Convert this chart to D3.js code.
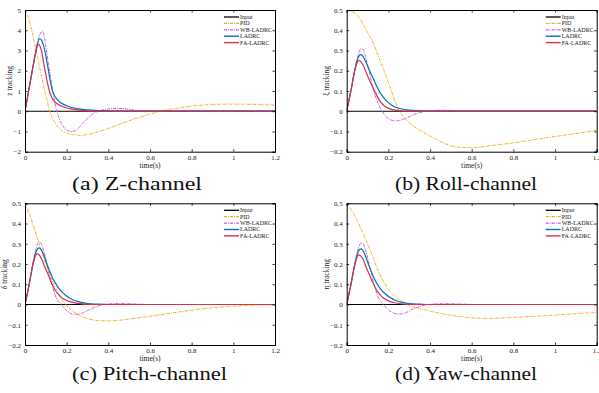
<!DOCTYPE html>
<html><head><meta charset="utf-8">
<script src="https://cdn.jsdelivr.net/npm/d3@7"></script>
<style>
html,body{margin:0;padding:0;background:#fff;}
svg text{font-family:"Liberation Serif","Times New Roman",serif;}
</style></head>
<body><svg id="c" width="599" height="393"></svg>
<script>
// ---------- data ----------
const seriesNames = ["Input","PID","WB-LADRC","LADRC","FA-LADRC"];
const xTicks = [0,0.2,0.4,0.6,0.8,1,1.2];
const yTicksZ = [-2,-1,0,1,2,3,4,5];
const yTicksA = [-0.2,-0.1,0,0.1,0.2,0.3,0.4,0.5];
const inputLine = [[0,0],[1.2,0]];

// Z channel
const zPID = [[0,5],[0.02,4.5],[0.04,3.65],[0.06,2.65],[0.08,1.7],[0.10,0.8],[0.12,-0.05],[0.14,-0.5],[0.16,-0.8],[0.18,-0.98],[0.20,-1.08],[0.23,-1.16],[0.27,-1.19],[0.31,-1.14],[0.35,-1.02],[0.40,-0.85],[0.45,-0.66],[0.50,-0.47],[0.55,-0.3],[0.60,-0.14],[0.65,0.0],[0.70,0.1],[0.75,0.18],[0.80,0.25],[0.85,0.3],[0.90,0.33],[0.95,0.345],[1.0,0.35],[1.05,0.345],[1.1,0.335],[1.15,0.32],[1.2,0.3]];
const zWB = [[0,0],[0.02,1.15],[0.04,2.3],[0.05,2.85],[0.06,3.35],[0.07,3.75],[0.08,3.93],[0.085,3.95],[0.09,3.82],[0.10,3.2],[0.11,2.5],[0.12,1.85],[0.13,1.2],[0.14,0.6],[0.15,0.1],[0.16,-0.25],[0.18,-0.7],[0.20,-0.93],[0.225,-1.0],[0.245,-0.95],[0.26,-0.8],[0.28,-0.57],[0.30,-0.35],[0.33,-0.1],[0.36,0.03],[0.40,0.11],[0.44,0.14],[0.48,0.12],[0.52,0.06],[0.56,0.02],[0.62,0],[1.2,0]];
const zLADRC = [[0,0],[0.02,1.15],[0.04,2.3],[0.05,2.85],[0.06,3.35],[0.072,3.58],[0.08,3.5],[0.09,3.2],[0.10,2.75],[0.11,2.15],[0.12,1.55],[0.13,1.08],[0.14,0.8],[0.15,0.63],[0.17,0.43],[0.20,0.27],[0.25,0.13],[0.30,0.065],[0.35,0.03],[0.40,0.012],[0.45,0.003],[0.5,0],[1.2,0]];
const zFA = [[0,0],[0.02,1.15],[0.04,2.3],[0.05,2.85],[0.06,3.25],[0.065,3.3],[0.07,3.25],[0.08,2.95],[0.09,2.35],[0.10,1.8],[0.11,1.3],[0.12,0.9],[0.13,0.65],[0.14,0.5],[0.16,0.33],[0.18,0.23],[0.20,0.16],[0.22,0.12],[0.26,0.055],[0.30,0.02],[0.35,0.005],[0.4,0],[1.2,0]];

// Roll channel
const rPID = [[0,0.5],[0.05,0.475],[0.1,0.39],[0.13,0.33],[0.16,0.25],[0.19,0.172],[0.22,0.085],[0.25,0.005],[0.28,-0.035],[0.31,-0.065],[0.35,-0.093],[0.40,-0.122],[0.45,-0.15],[0.50,-0.17],[0.55,-0.179],[0.6,-0.18],[0.7,-0.169],[0.8,-0.156],[0.9,-0.14],[1.0,-0.125],[1.1,-0.11],[1.2,-0.095]];
const rWB = [[0,0],[0.02,0.1],[0.04,0.21],[0.05,0.26],[0.06,0.295],[0.07,0.31],[0.08,0.302],[0.09,0.27],[0.10,0.228],[0.11,0.185],[0.12,0.14],[0.13,0.1],[0.14,0.068],[0.15,0.04],[0.16,0.018],[0.17,0.0],[0.18,-0.015],[0.19,-0.028],[0.21,-0.042],[0.235,-0.048],[0.26,-0.044],[0.29,-0.032],[0.32,-0.018],[0.35,-0.007],[0.38,0.0],[0.42,0.004],[0.47,0.005],[0.52,0.003],[0.58,0],[1.2,0]];
const rLADRC = [[0,0],[0.02,0.1],[0.04,0.21],[0.05,0.25],[0.06,0.275],[0.066,0.28],[0.075,0.275],[0.09,0.248],[0.10,0.225],[0.11,0.2],[0.128,0.16],[0.14,0.132],[0.16,0.092],[0.19,0.052],[0.22,0.027],[0.26,0.012],[0.30,0.005],[0.35,0.002],[0.4,0],[1.2,0]];
const rFA = [[0,0],[0.02,0.1],[0.04,0.205],[0.05,0.24],[0.058,0.25],[0.065,0.248],[0.08,0.225],[0.10,0.175],[0.12,0.13],[0.14,0.087],[0.152,0.062],[0.17,0.037],[0.19,0.02],[0.22,0.008],[0.26,0.002],[0.3,0],[1.2,0]];

// Pitch channel
const pPID = [[0,0.5],[0.02,0.45],[0.04,0.39],[0.06,0.325],[0.08,0.26],[0.10,0.2],[0.12,0.145],[0.14,0.097],[0.16,0.057],[0.18,0.022],[0.20,-0.005],[0.23,-0.033],[0.26,-0.053],[0.30,-0.07],[0.35,-0.079],[0.40,-0.081],[0.45,-0.078],[0.5,-0.072],[0.6,-0.058],[0.7,-0.043],[0.8,-0.028],[0.9,-0.016],[1.0,-0.008],[1.1,-0.003],[1.2,-0.001]];
const pWB = [[0,0],[0.02,0.1],[0.04,0.215],[0.05,0.265],[0.06,0.3],[0.067,0.31],[0.075,0.305],[0.09,0.265],[0.10,0.225],[0.11,0.18],[0.12,0.135],[0.13,0.095],[0.14,0.06],[0.15,0.033],[0.16,0.015],[0.175,0.0],[0.19,-0.02],[0.21,-0.038],[0.235,-0.048],[0.255,-0.048],[0.28,-0.04],[0.31,-0.025],[0.34,-0.011],[0.37,-0.002],[0.40,0.003],[0.45,0.005],[0.5,0.004],[0.56,0.001],[0.62,0],[1.2,0]];
const pLADRC = [[0,0],[0.02,0.1],[0.04,0.21],[0.05,0.25],[0.06,0.275],[0.066,0.28],[0.075,0.275],[0.09,0.245],[0.105,0.2],[0.12,0.162],[0.135,0.125],[0.152,0.096],[0.17,0.07],[0.184,0.055],[0.21,0.035],[0.232,0.022],[0.26,0.013],[0.296,0.006],[0.35,0.002],[0.4,0],[1.2,0]];
const pFA = [[0,0],[0.02,0.1],[0.04,0.205],[0.05,0.24],[0.058,0.25],[0.066,0.247],[0.08,0.225],[0.095,0.185],[0.112,0.146],[0.128,0.105],[0.144,0.072],[0.16,0.05],[0.176,0.034],[0.2,0.02],[0.216,0.014],[0.24,0.008],[0.264,0.004],[0.3,0.001],[0.35,0],[1.2,0]];

// Yaw channel
const yPID = [[0,0.5],[0.032,0.45],[0.064,0.385],[0.096,0.31],[0.128,0.228],[0.16,0.146],[0.192,0.088],[0.224,0.047],[0.256,0.022],[0.29,0.0],[0.33,-0.015],[0.38,-0.028],[0.42,-0.037],[0.48,-0.05],[0.55,-0.06],[0.6,-0.066],[0.65,-0.068],[0.7,-0.068],[0.8,-0.064],[0.9,-0.058],[1.0,-0.052],[1.1,-0.045],[1.2,-0.04]];
const yWB = [[0,0],[0.02,0.1],[0.04,0.21],[0.05,0.258],[0.06,0.29],[0.07,0.305],[0.08,0.298],[0.09,0.27],[0.10,0.232],[0.11,0.19],[0.12,0.145],[0.13,0.105],[0.14,0.068],[0.15,0.04],[0.16,0.02],[0.18,-0.005],[0.20,-0.027],[0.22,-0.04],[0.245,-0.047],[0.265,-0.046],[0.29,-0.037],[0.32,-0.022],[0.35,-0.01],[0.38,-0.002],[0.42,0.003],[0.47,0.004],[0.52,0.003],[0.58,0.001],[0.64,0],[1.2,0]];
const yLADRC = [[0,0],[0.02,0.1],[0.04,0.205],[0.05,0.245],[0.06,0.27],[0.067,0.275],[0.075,0.27],[0.09,0.24],[0.105,0.197],[0.12,0.158],[0.135,0.122],[0.152,0.092],[0.17,0.067],[0.19,0.048],[0.21,0.033],[0.235,0.02],[0.26,0.012],[0.3,0.005],[0.35,0.002],[0.4,0],[1.2,0]];
const yFA = [[0,0],[0.02,0.095],[0.04,0.2],[0.05,0.235],[0.058,0.245],[0.066,0.242],[0.08,0.22],[0.095,0.18],[0.112,0.14],[0.128,0.102],[0.144,0.07],[0.16,0.048],[0.18,0.03],[0.2,0.018],[0.225,0.01],[0.25,0.005],[0.29,0.001],[0.35,0],[1.2,0]];

const captions = ["(a) Z-channel","(b) Roll-channel","(c) Pitch-channel","(d) Yaw-channel"];
const yLabels = ["z tracking","\u03BE tracking","\u03B4 tracking","\u03B7 tracking"];

// ---------- styles ----------
const colors = ["#000000","#EDB120","#C65FD8","#0072BD","#D7304D"];
const dashes = [null,"3,1,1,1","3,1,1,1",null,null];
const widths = [1.1,1.0,1.0,1.2,1.2];

const panels = [
  {x0:25, y0:10, data:[inputLine,zPID,zWB,zLADRC,zFA], yDom:[-2,5], yt:yTicksZ, cap:captions[0], yl:yLabels[0], ylx:-13, capX:72, capY:190, capL:130},
  {x0:346.7, y0:10, data:[inputLine,rPID,rWB,rLADRC,rFA], yDom:[-0.2,0.5], yt:yTicksA, cap:captions[1], yl:yLabels[1], ylx:-18, capX:395, capY:190, capL:142},
  {x0:25, y0:203.3, data:[inputLine,pPID,pWB,pLADRC,pFA], yDom:[-0.2,0.5], yt:yTicksA, cap:captions[2], yl:yLabels[2], ylx:-18, capX:72, capY:380, capL:155},
  {x0:346.7, y0:203.3, data:[inputLine,yPID,yWB,yLADRC,yFA], yDom:[-0.2,0.5], yt:yTicksA, cap:captions[3], yl:yLabels[3], ylx:-18, capX:395, capY:380, capL:142}
];
const W = 250, H = 141.7;
const svg = d3.select("#c");
const fmt = v => (Math.abs(v) < 1e-9 ? "0" : d3.format("")(+v.toFixed(1)));

panels.forEach((p, i) => {
  const g = svg.append("g").attr("transform", `translate(${p.x0},${p.y0})`);
  const x = d3.scaleLinear().domain([0,1.2]).range([0,W]);
  const y = d3.scaleLinear().domain(p.yDom).range([H,0]);
  const clipId = "clip"+i;
  g.append("clipPath").attr("id",clipId).append("rect").attr("width",W).attr("height",H);

  const line = d3.line().x(d=>x(d[0])).y(d=>y(d[1])).curve(d3.curveMonotoneX);
  const lg = g.append("g").attr("clip-path",`url(#${clipId})`);
  p.data.forEach((s, k) => {
    lg.append("path").attr("d", line(s)).attr("fill","none")
      .attr("stroke", colors[k]).attr("stroke-width", widths[k])
      .attr("stroke-dasharray", dashes[k]);
  });

  const axB = g.append("g").attr("transform",`translate(0,${H})`)
    .call(d3.axisBottom(x).tickValues(xTicks).tickSize(-2.5).tickPadding(4).tickFormat(d=>d3.format("")(d)));
  const axT = g.append("g").call(d3.axisTop(x).tickValues(xTicks).tickSize(-2.5).tickFormat(""));
  const axL = g.append("g").call(d3.axisLeft(y).tickValues(p.yt).tickSize(-2.5).tickPadding(4).tickFormat(fmt));
  const axR = g.append("g").attr("transform",`translate(${W},0)`)
    .call(d3.axisRight(y).tickValues(p.yt).tickSize(-2.5).tickFormat(""));
  [axB,axT,axL,axR].forEach(a => {
    a.select(".domain").attr("stroke","#000").attr("stroke-width",1);
    a.selectAll(".tick line").attr("stroke","#000").attr("stroke-width",0.8);
    a.selectAll("text").attr("font-family","Liberation Serif").attr("font-size",7).attr("fill","#222");
  });
  axB.selectAll("text").attr("dy","0.6em");

  g.append("text").attr("x",W/2).attr("y",H+16).attr("text-anchor","middle")
    .attr("font-size",7.5).attr("fill","#222").text("time(s)");
  g.append("text").attr("transform",`translate(${p.ylx},${H/2}) rotate(-90)`)
    .attr("text-anchor","middle").attr("font-size",7.5).attr("fill","#222").text(p.yl);

  const leg = g.append("g").attr("transform",`translate(${W-51},7)`);
  seriesNames.forEach((n, k) => {
    const yy = k*6.4;
    leg.append("line").attr("x1",0).attr("x2",15).attr("y1",yy).attr("y2",yy)
      .attr("stroke",colors[k]).attr("stroke-width",widths[k]+0.2).attr("stroke-dasharray",dashes[k]);
    leg.append("text").attr("x",16).attr("y",yy).attr("dy","0.33em")
      .attr("font-size",6).attr("fill","#222").text(n);
  });

  svg.append("text").attr("x",p.capX).attr("y",p.capY).attr("font-size",18.5)
    .attr("textLength",p.capL).attr("lengthAdjust","spacingAndGlyphs")
    .attr("fill","#111").text(p.cap);
});
</script></body></html>
